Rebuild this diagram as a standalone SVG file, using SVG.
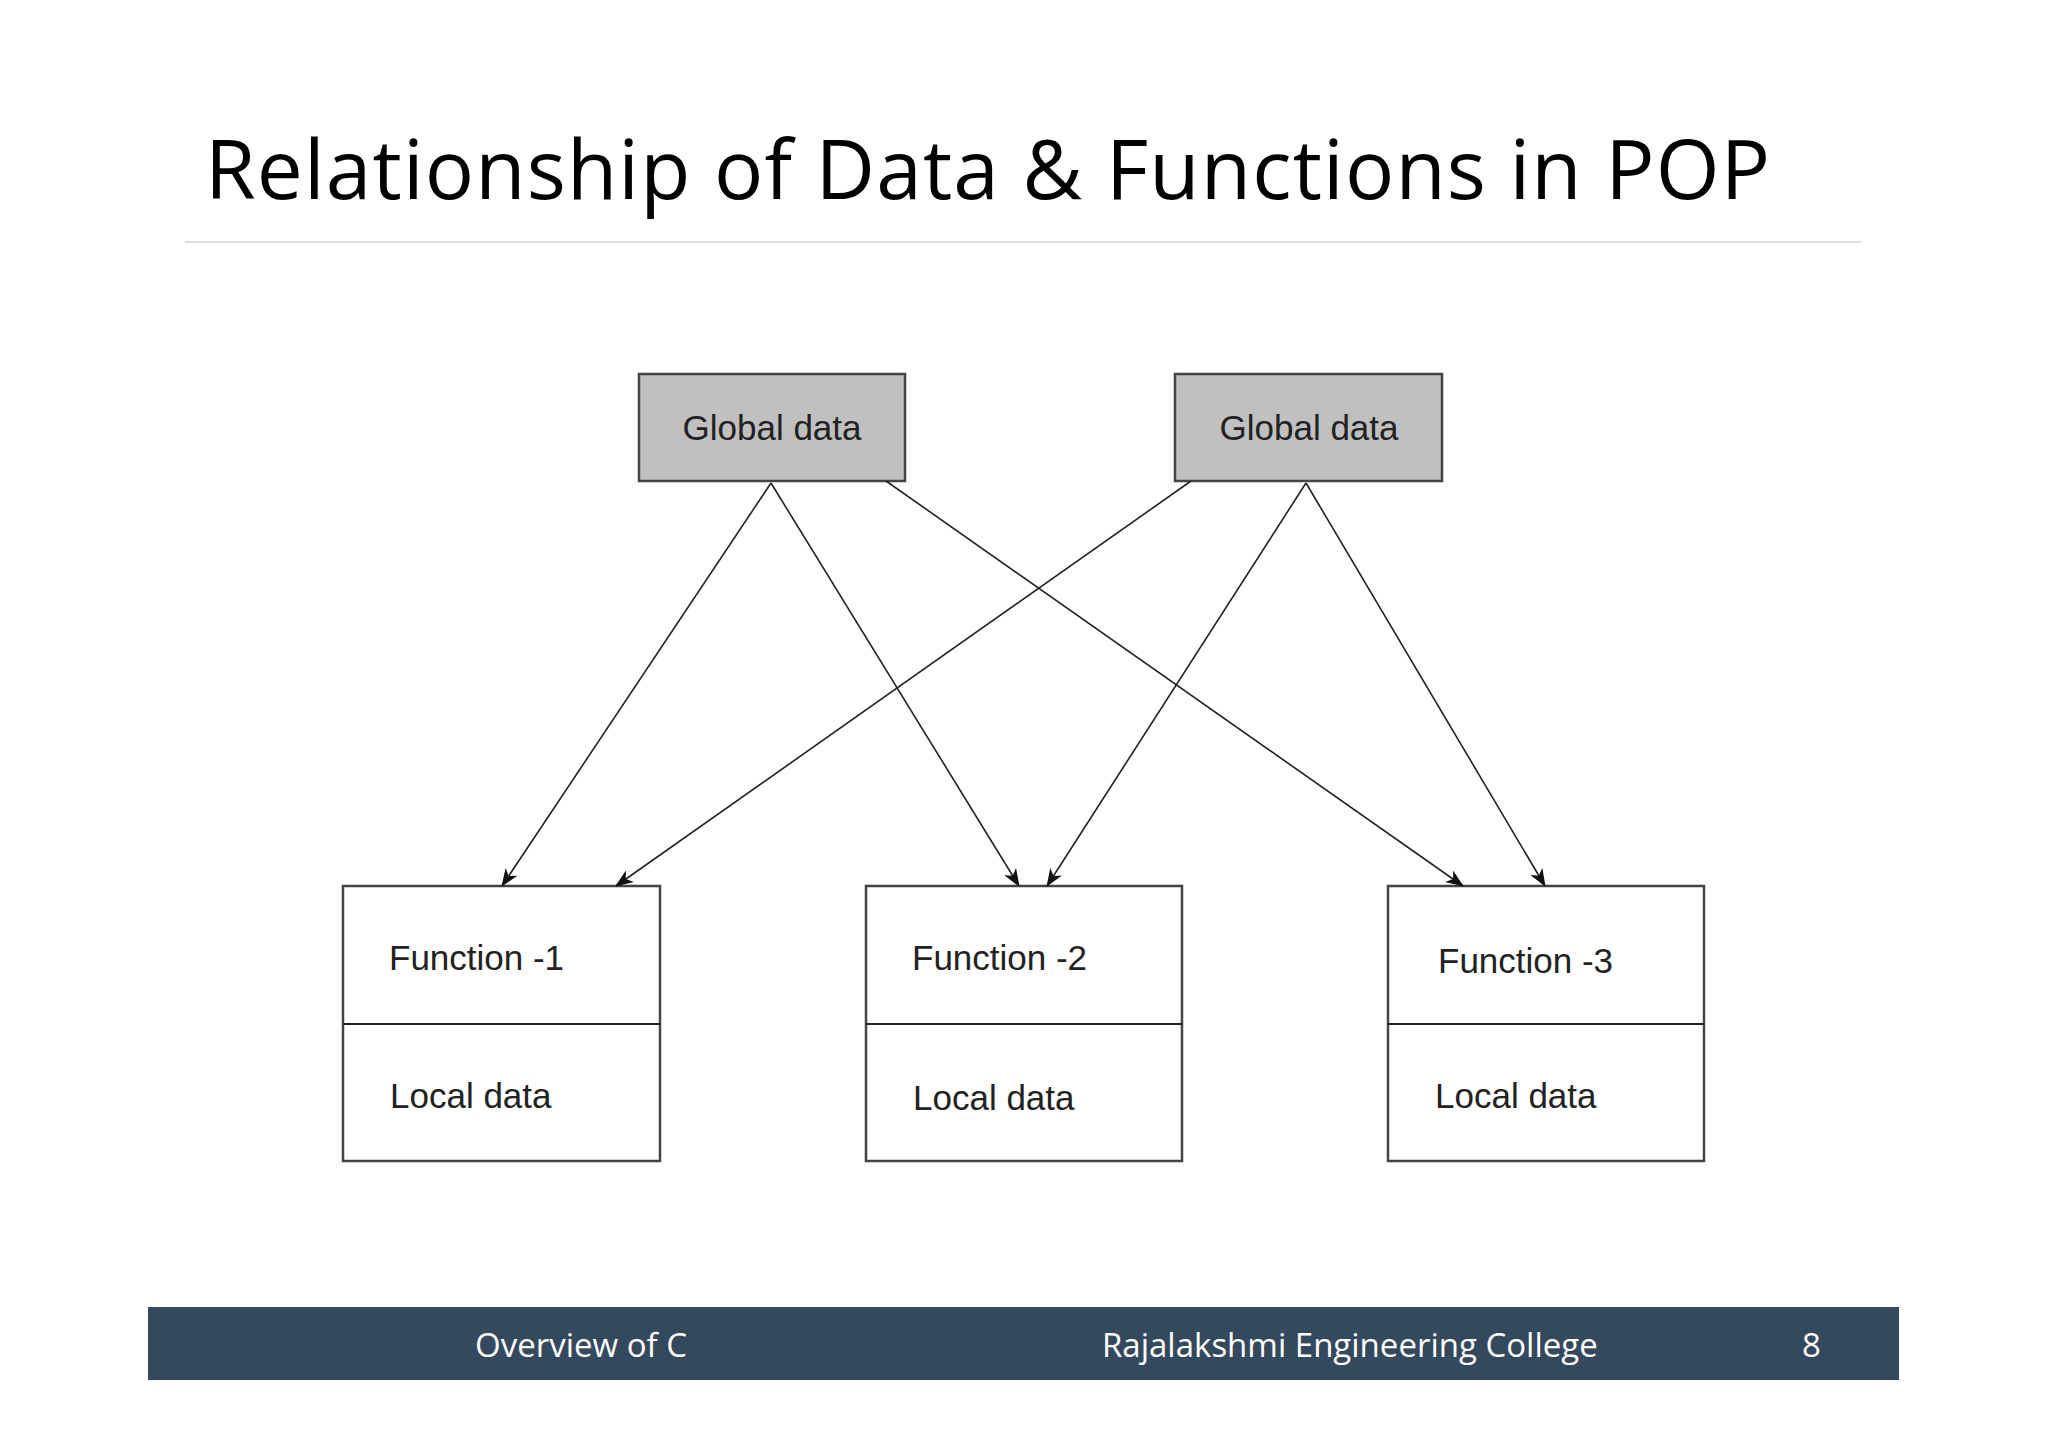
<svg xmlns="http://www.w3.org/2000/svg" width="2048" height="1448" viewBox="0 0 2048 1448">
<style>
.t{font-family:"Liberation Sans",Arial,sans-serif;font-size:35px;fill:#222}
.box{fill:#fff;stroke:#444;stroke-width:2.5}
.g{fill:#c0c0c0;stroke:#444;stroke-width:2.5}
.c{stroke:#222;stroke-width:1.6;fill:none;marker-end:url(#a)}
.f{font-family:"Open Sans","Liberation Sans",sans-serif;fill:#fff;font-size:33px}
</style>
<defs><marker id="a" markerWidth="18" markerHeight="14" refX="17" refY="7" orient="auto" markerUnits="userSpaceOnUse"><path d="M0,0 L18,7 L0,14 L5,7 z" fill="#111"/></marker></defs>
<rect width="2048" height="1448" fill="#fff"/>
<text x="205" y="199" font-family="Open Sans, Liberation Sans, sans-serif" font-size="82" fill="#000" textLength="1565">Relationship of Data &amp; Functions in POP</text>
<line x1="185" y1="242" x2="1862" y2="242" stroke="#ddd" stroke-width="2"/>
<g id="g1"><rect class="g" x="639" y="374" width="266" height="107"/><text class="t" x="772" y="440" text-anchor="middle">Global  data</text></g>
<g id="g2"><rect class="g" x="1175" y="374" width="267" height="107"/><text class="t" x="1309" y="440" text-anchor="middle">Global  data</text></g>
<g id="f1"><rect class="box" x="343" y="886" width="317" height="275"/><line x1="343" y1="1024" x2="660" y2="1024" stroke="#222" stroke-width="2"/><text class="t" x="389" y="970">Function  -1</text><text class="t" x="390" y="1108">Local data</text></g>
<g id="f2"><rect class="box" x="866" y="886" width="316" height="275"/><line x1="866" y1="1024" x2="1182" y2="1024" stroke="#222" stroke-width="2"/><text class="t" x="912" y="970">Function  -2</text><text class="t" x="913" y="1110">Local data</text></g>
<g id="f3"><rect class="box" x="1388" y="886" width="316" height="275"/><line x1="1388" y1="1024" x2="1704" y2="1024" stroke="#222" stroke-width="2"/><text class="t" x="1438" y="973">Function  -3</text><text class="t" x="1435" y="1108">Local data</text></g>
<g id="connectors">
<line class="c" x1="771" y1="483" x2="502" y2="886"/>
<line class="c" x1="771" y1="483" x2="1019" y2="886"/>
<line class="c" x1="886" y1="481" x2="1463" y2="886"/>
<line class="c" x1="1191" y1="481" x2="616" y2="886"/>
<line class="c" x1="1306" y1="483" x2="1047" y2="886"/>
<line class="c" x1="1306" y1="483" x2="1545" y2="886"/>
</g>
<rect x="148" y="1307" width="1751" height="73" fill="#34495e"/>
<text class="f" x="475" y="1357">Overview of C</text>
<text class="f" x="1102" y="1357">Rajalakshmi Engineering College</text>
<text class="f" x="1802" y="1357">8</text>
</svg>
